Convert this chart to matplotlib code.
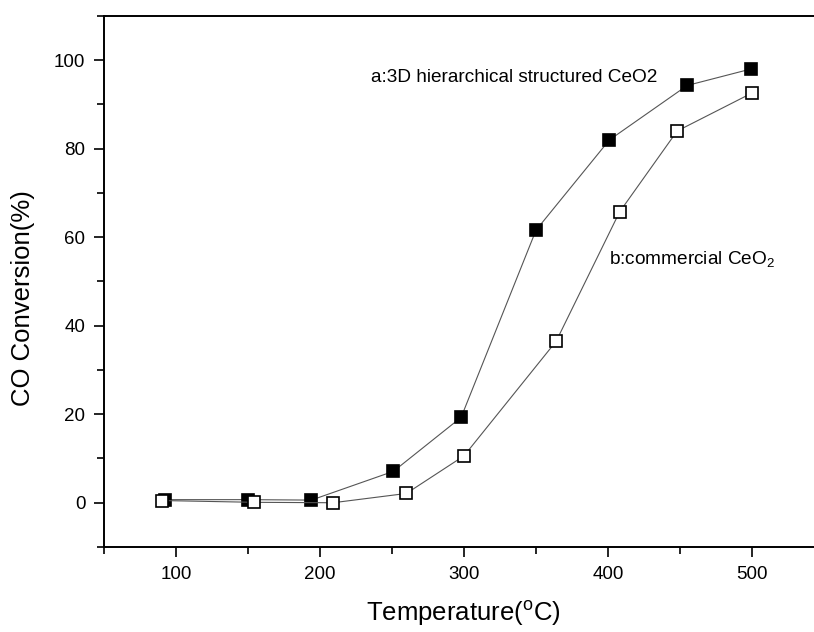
"""CO conversion vs temperature for two CeO2 samples."""
import numpy as np
import matplotlib
matplotlib.use("Agg")
import matplotlib.pyplot as plt
from matplotlib.ticker import MultipleLocator

plt.rcParams["font.family"] = ["Liberation Sans", "DejaVu Sans"]
plt.rcParams["mathtext.fontset"] = "custom"
plt.rcParams["mathtext.rm"] = "Liberation Sans"

# a: 3D hierarchical structured CeO2 (filled squares)
temp_a = [92, 150, 194, 251, 298, 350, 401, 455, 499]
conv_a = [0.7, 0.7, 0.6, 7.1, 19.3, 61.6, 82.0, 94.3, 98.0]

# b: commercial CeO2 (open squares)
temp_b = [90, 154, 209, 260, 300, 364, 408, 448, 500]
conv_b = [0.5, 0.1, 0.0, 2.1, 10.6, 36.5, 65.7, 84.0, 92.6]

label_a = "a:3D hierarchical structured CeO2"
label_b = "b:commercial CeO$_2$"

fig = plt.figure(figsize=(8.14, 6.32), dpi=100)
ax = fig.add_axes([0.1278, 0.1345, 0.8845, 0.8402])

line_kw = dict(color="#555555", lw=0.8, marker="s", ms=9, mew=1.2, mec="black")
ax.plot(temp_a, conv_a, mfc="black", **line_kw)
ax.plot(temp_b, conv_b, mfc="white", **line_kw)

ax.text(235.5, 95.1, label_a, fontsize=13.7, va="baseline", ha="left")
ax.text(401, 53.9, label_b, fontsize=13.7, va="baseline", ha="left")

ax.set_xlim(50, 550)
ax.set_ylim(-10, 110)
ax.xaxis.set_major_locator(MultipleLocator(100))
ax.xaxis.set_minor_locator(MultipleLocator(50))
ax.yaxis.set_major_locator(MultipleLocator(20))
ax.yaxis.set_minor_locator(MultipleLocator(10))
ax.set_yticks([0, 20, 40, 60, 80, 100])
ax.tick_params(which="major", direction="out", length=7.5, width=1.2, labelsize=13.5, pad=6)
ax.tick_params(which="minor", direction="out", length=5, width=1.2)
ax.tick_params(top=False, right=False, which="both")

for s in ax.spines.values():
    s.set_linewidth(1.4)

ax.set_xlabel("Temperature($^{\\rm o}$C)", fontsize=18.5)
ax.set_ylabel("CO Conversion(%)", fontsize=18.5)
ax.xaxis.set_label_coords(0.499, -0.097)
ax.yaxis.set_label_coords(-0.096, 0.469)

fig.savefig("out.png", dpi=100)
